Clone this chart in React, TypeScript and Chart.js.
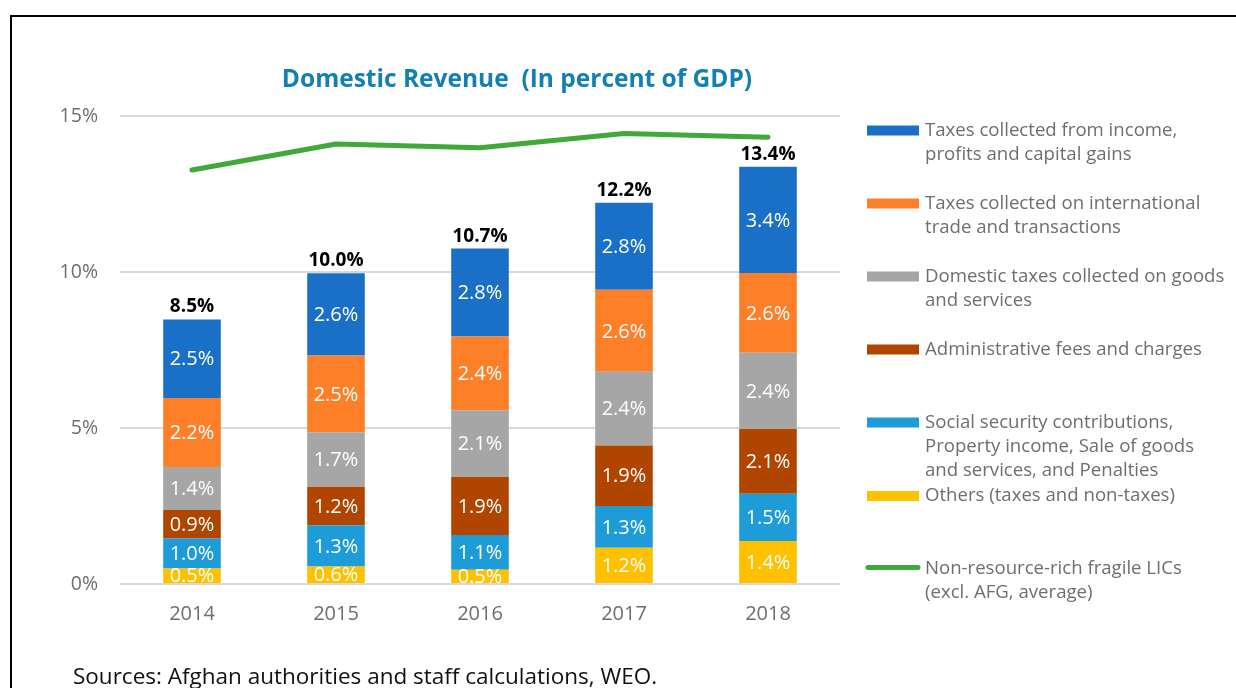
import React, { useEffect, useRef } from "react";
import { Chart, registerables } from "chart.js";

Chart.register(...registerables);

const years = ["2014", "2015", "2016", "2017", "2018"];
const others = [0.5, 0.56, 0.46, 1.16, 1.38];
const socialSecurity = [0.96, 1.32, 1.11, 1.34, 1.51];
const adminFees = [0.91, 1.24, 1.86, 1.94, 2.08];
const domesticGoods = [1.38, 1.74, 2.14, 2.36, 2.44];
const intlTrade = [2.21, 2.46, 2.36, 2.63, 2.56];
const incomeTaxes = [2.52, 2.64, 2.82, 2.79, 3.4];
const totals = [8.5, 10.0, 10.7, 12.2, 13.4];
const fragileLICs = [13.27, 14.1, 13.98, 14.44, 14.32];
const yTicks = [0, 5, 10, 15];

const titleText = "Domestic Revenue  (In percent of GDP)";
const sourceText = "Sources: Afghan authorities and staff calculations, WEO.";

const legendIncome = ["Taxes collected from income,", "profits and capital gains"];
const legendTrade = ["Taxes collected on international", "trade and transactions"];
const legendDomestic = ["Domestic taxes collected on goods", "and services"];
const legendAdmin = ["Administrative fees and charges"];
const legendSocial = ["Social security contributions,", "Property income, Sale of goods", "and services, and Penalties"];
const legendOthers = ["Others (taxes and non-taxes)"];
const legendLine = ["Non-resource-rich fragile LICs", "(excl. AFG, average)"];

const FONT = "'Open Sans', 'Noto Sans', sans-serif";
const C_BLUE = "#1A70C6";
const C_ORANGE = "#FD7F28";
const C_GRAY = "#A6A6A6";
const C_BROWN = "#B04500";
const C_LBLUE = "#1D9CD8";
const C_YELLOW = "#FFC000";
const C_GREEN = "#3FAA3A";

const decorPlugin = {
  id: "decor",
  beforeDraw(chart: any) {
    const ctx = chart.ctx;
    ctx.save();
    ctx.fillStyle = "#ffffff";
    ctx.fillRect(0, 0, chart.width, chart.height);
    ctx.strokeStyle = "#000000";
    ctx.lineWidth = 2;
    ctx.beginPath();
    ctx.moveTo(11, 700);
    ctx.lineTo(11, 16);
    ctx.lineTo(1240, 16);
    ctx.stroke();
    ctx.restore();
  },
  afterDraw(chart: any) {
    const ctx = chart.ctx;
    ctx.save();
    // title
    ctx.fillStyle = "#1380B2";
    ctx.font = `bold 24.5px ${FONT}`;
    ctx.textAlign = "center";
    ctx.textBaseline = "middle";
    ctx.fillText(titleText, 517, 80);
    // source
    ctx.fillStyle = "#111111";
    ctx.font = `22.5px ${FONT}`;
    ctx.textAlign = "left";
    ctx.textBaseline = "alphabetic";
    ctx.fillText(sourceText, 73, 684);
    // legend
    const items = [
      { lines: legendIncome, color: C_BLUE, y: 130.5, line: false },
      { lines: legendTrade, color: C_ORANGE, y: 203.5, line: false },
      { lines: legendDomestic, color: C_GRAY, y: 276.5, line: false },
      { lines: legendAdmin, color: C_BROWN, y: 349.5, line: false },
      { lines: legendSocial, color: C_LBLUE, y: 422.5, line: false },
      { lines: legendOthers, color: C_YELLOW, y: 496, line: false },
      { lines: legendLine, color: C_GREEN, y: 569, line: true },
    ];
    ctx.font = `18.6px ${FONT}`;
    ctx.textBaseline = "middle";
    items.forEach((it) => {
      if (it.line) {
        ctx.strokeStyle = it.color;
        ctx.lineWidth = 5;
        ctx.lineCap = "round";
        ctx.beginPath();
        ctx.moveTo(868, it.y - 1.5);
        ctx.lineTo(918, it.y - 1.5);
        ctx.stroke();
      } else {
        ctx.fillStyle = it.color;
        ctx.fillRect(867, it.y - 5, 52, 10);
      }
      ctx.fillStyle = "#6E6E6E";
      it.lines.forEach((t, i) => ctx.fillText(t, 925, it.y + i * 24));
    });
    ctx.restore();
  },
};

const labelPlugin = {
  id: "barLabels",
  afterDatasetsDraw(chart: any) {
    const ctx = chart.ctx;
    const area = chart.chartArea;
    ctx.save();
    ctx.beginPath();
    ctx.rect(area.left, area.top - 60, area.right - area.left, area.bottom - area.top + 60);
    ctx.clip();
    ctx.textAlign = "center";
    ctx.textBaseline = "middle";
    ctx.font = `20px ${FONT}`;
    ctx.fillStyle = "#ffffff";
    chart.data.datasets.forEach((ds: any, di: number) => {
      if (ds.type !== "bar") return;
      const meta = chart.getDatasetMeta(di);
      meta.data.forEach((el: any, i: number) => {
        const v = ds.data[i];
        const cy = (el.y + el.base) / 2;
        ctx.fillText(v.toFixed(1) + "%", el.x, cy + 1);
      });
    });
    // totals
    const lastIdx = chart.data.datasets.length - 1;
    const topMeta = chart.getDatasetMeta(lastIdx);
    ctx.font = `bold 19px ${FONT}`;
    ctx.fillStyle = "#000000";
    topMeta.data.forEach((el: any, i: number) => {
      ctx.fillText(totals[i].toFixed(1) + "%", el.x, el.y - 12.5);
    });
    ctx.restore();
  },
};

export default function App() {
  const ref = useRef<HTMLCanvasElement>(null);
  useEffect(() => {
    if (!ref.current) return;
    const barDs = (label: string, data: number[], color: string) => ({
      type: "bar" as const,
      label,
      data,
      backgroundColor: color,
      borderWidth: 0,
      order: 2,
      stack: "s",
    });
    const chart = new Chart(ref.current, {
      type: "bar",
      data: {
        labels: years,
        datasets: [
          {
            type: "line" as const,
            label: legendLine.join(" "),
            data: fragileLICs,
            borderColor: C_GREEN,
            borderWidth: 5,
            pointRadius: 0,
            borderCapStyle: "round",
            borderJoinStyle: "round",
            tension: 0,
            order: 1,
          } as any,
          barDs(legendOthers.join(" "), others, C_YELLOW),
          barDs(legendSocial.join(" "), socialSecurity, C_LBLUE),
          barDs(legendAdmin.join(" "), adminFees, C_BROWN),
          barDs(legendDomestic.join(" "), domesticGoods, C_GRAY),
          barDs(legendTrade.join(" "), intlTrade, C_ORANGE),
          barDs(legendIncome.join(" "), incomeTaxes, C_BLUE),
        ],
      },
      options: {
        responsive: false,
        maintainAspectRatio: false,
        animation: false,
        layout: { padding: { top: 116, left: 0, right: 396, bottom: 64 } },
        plugins: {
          legend: { display: false },
          title: { display: false },
          tooltip: { enabled: false },
        },
        datasets: { bar: { categoryPercentage: 1, barPercentage: 0.4 } },
        scales: {
          x: {
            stacked: true,
            grid: { display: false, drawTicks: false },
            border: { display: false },
            ticks: { color: "#6E6E6E", font: { family: FONT, size: 20 }, padding: 18 },
            afterFit: (axis: any) => {
              axis.height = 40;
            },
          },
          y: {
            stacked: true,
            min: 0,
            max: 15,
            afterBuildTicks: (axis: any) => {
              axis.ticks = yTicks.map((v) => ({ value: v }));
            },
            grid: { color: "#D9D9D9", lineWidth: 2, drawTicks: false },
            border: { display: false },
            ticks: {
              color: "#6E6E6E",
              font: { family: FONT, size: 19.5 },
              padding: 22,
              callback: (v: any) => v + "%",
            },
            afterFit: (axis: any) => {
              axis.width = 120;
            },
          },
        },
      },
      plugins: [decorPlugin, labelPlugin],
    });
    return () => chart.destroy();
  }, []);
  return (
    <div style={{ position: "absolute", left: 0, top: 0, width: 1236, height: 688, overflow: "hidden" }}>
      <canvas ref={ref} width={1236} height={688} style={{ display: "block" }} />
    </div>
  );
}
